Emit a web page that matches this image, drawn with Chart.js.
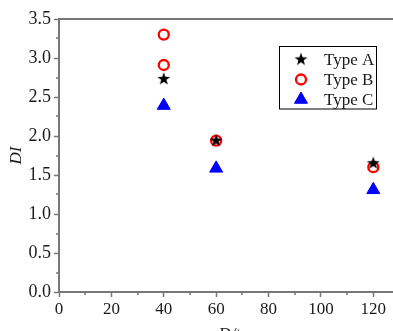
<!DOCTYPE html>
<html lang="en">
<head>
  <meta charset="UTF-8" />
  <title>DI vs D/t</title>
  <script src="https://cdn.jsdelivr.net/npm/chart.js"></script>
  <style>
    html, body { margin: 0; padding: 0; overflow: hidden; background: #fff; }
    #wrap { width: 408px; height: 345px; }
  </style>
</head>
<body>
  <div id="wrap"><canvas id="diChart" width="408" height="345"></canvas></div>

  <script>
    // data
    const typeAX = [40, 60, 120];
    const typeAY = [2.73, 1.94, 1.65];
    const typeBX = [40, 40, 60, 120];
    const typeBY = [3.30, 2.91, 1.94, 1.60];
    const typeCX = [40, 60, 120];
    const typeCY = [2.39, 1.585, 1.31];
    const seriesNames = ['Type A', 'Type B', 'Type C'];
    const xMinorTicks = [10, 30, 50, 70, 90, 110, 130];
    const yMinorTicks = [0.25, 0.75, 1.25, 1.75, 2.25, 2.75, 3.25];

    const axisGray = '#777777';
    const textColor = '#1a1a1a';
    const serif = "'Liberation Serif', 'Times New Roman', serif";

    // filled five point star (chart.js 'star' is only a line asterisk)
    function makeStar(r) {
      const c = document.createElement('canvas');
      const s = Math.ceil(r * 2 + 2);
      c.width = s; c.height = s;
      const g = c.getContext('2d');
      g.fillStyle = '#000';
      g.beginPath();
      for (let i = 0; i < 10; i++) {
        const rad = i % 2 === 0 ? r : r * 0.4;
        const a = -Math.PI / 2 + i * Math.PI / 5;
        const px = s / 2 + rad * Math.cos(a);
        const py = s / 2 + rad * Math.sin(a);
        if (i === 0) g.moveTo(px, py); else g.lineTo(px, py);
      }
      g.closePath();
      g.fill();
      return c;
    }
    const starImg = makeStar(6.8);

    const pts = (xs, ys) => xs.map((x, i) => ({ x, y: ys[i] }));

    // minor ticks + boxed legend
    const extras = {
      id: 'extras',
      afterDraw(chart) {
        const ctx = chart.ctx;
        const xs = chart.scales.x, ys = chart.scales.y;
        ctx.save();
        ctx.strokeStyle = axisGray;
        ctx.lineWidth = 1.5;
        ctx.beginPath();
        xMinorTicks.forEach(v => {
          const px = Math.round(xs.getPixelForValue(v));
          ctx.moveTo(px, xs.top); ctx.lineTo(px, xs.top + 3);
        });
        yMinorTicks.forEach(v => {
          const py = Math.round(ys.getPixelForValue(v));
          ctx.moveTo(ys.right, py); ctx.lineTo(ys.right - 3, py);
        });
        ctx.stroke();

        // legend
        const box = { x: 279.5, y: 46.5, w: 97, h: 62.5 };
        ctx.fillStyle = '#fff';
        ctx.fillRect(box.x, box.y, box.w, box.h);
        ctx.strokeStyle = '#000';
        ctx.lineWidth = 1;
        ctx.strokeRect(box.x, box.y, box.w, box.h);
        ctx.font = '17px ' + serif;
        ctx.textBaseline = 'middle';
        ctx.textAlign = 'left';
        chart.data.datasets.forEach((ds, i) => {
          const cy = 59.5 + i * 20;
          ctx.fillStyle = ds.backgroundColor;
          ctx.strokeStyle = ds.borderColor;
          ctx.lineWidth = ds.borderWidth;
          Chart.helpers.drawPoint(ctx, {
            pointStyle: ds.pointStyle, radius: ds.pointRadius,
            borderWidth: ds.borderWidth, rotation: 0
          }, 301, cy);
          ctx.fillStyle = textColor;
          ctx.fillText(seriesNames[i], 324, cy + 1);
        });
        ctx.restore();
      }
    };

    const isMajorX = v => v % 20 === 0 && v <= 120;

    new Chart(document.getElementById('diChart'), {
      type: 'scatter',
      data: {
        datasets: [
          {
            label: seriesNames[0], data: pts(typeAX, typeAY),
            pointStyle: starImg, pointRadius: 7,
            backgroundColor: '#000', borderColor: '#000', borderWidth: 1
          },
          {
            label: seriesNames[1], data: pts(typeBX, typeBY),
            pointStyle: 'circle', pointRadius: 5,
            backgroundColor: 'rgba(0,0,0,0)', borderColor: '#ff0000', borderWidth: 2.3
          },
          {
            label: seriesNames[2], data: pts(typeCX, typeCY),
            pointStyle: 'triangle', pointRadius: 7.5,
            backgroundColor: '#0000ff', borderColor: '#0000ff', borderWidth: 1
          }
        ]
      },
      options: {
        responsive: false,
        animation: false,
        layout: { padding: { left: 0, top: 19, right: 2, bottom: 0 } },
        plugins: { legend: { display: false }, tooltip: { enabled: false } },
        scales: {
          x: {
            type: 'linear', position: 'bottom', min: 0, max: 130,
            afterFit: s => { s.height = 53; s.paddingRight = 0; s.paddingLeft = 0; },
            ticks: {
              stepSize: 10, padding: 2, color: textColor,
              font: { family: serif, size: 17 },
              autoSkip: false, maxRotation: 0,
              callback: v => isMajorX(v) ? v : ''
            },
            grid: {
              drawOnChartArea: false, tickLength: 5, tickWidth: 1.5,
              tickColor: c => isMajorX(c.tick.value) ? axisGray : 'rgba(0,0,0,0)'
            },
            border: { color: axisGray, width: 2 },
            title: {
              display: true, text: 'D/t', color: textColor,
              font: { family: serif, size: 17, style: 'italic' },
              padding: { top: 1, bottom: 0 }
            }
          },
          x2: {
            type: 'linear', position: 'top', min: 0, max: 130,
            afterFit: s => { s.height = 0; s.paddingRight = 0; s.paddingLeft = 0; },
            ticks: { display: false },
            grid: { drawOnChartArea: false, drawTicks: false },
            border: { color: axisGray, width: 2 }
          },
          y: {
            min: 0, max: 3.5,
            afterFit: s => { s.width = 59; },
            ticks: {
              stepSize: 0.5, padding: 3, color: textColor,
              font: { family: serif, size: 18 },
              callback: v => v.toFixed(1)
            },
            grid: { drawOnChartArea: false, tickLength: 5, tickColor: axisGray, tickWidth: 1.5 },
            border: { color: axisGray, width: 2 },
            title: {
              display: true, text: 'DI', color: textColor,
              font: { family: serif, size: 17, style: 'italic' },
              padding: { top: 6, bottom: 0 }
            }
          }
        }
      },
      plugins: [extras]
    });
  </script>
</body>
</html>
